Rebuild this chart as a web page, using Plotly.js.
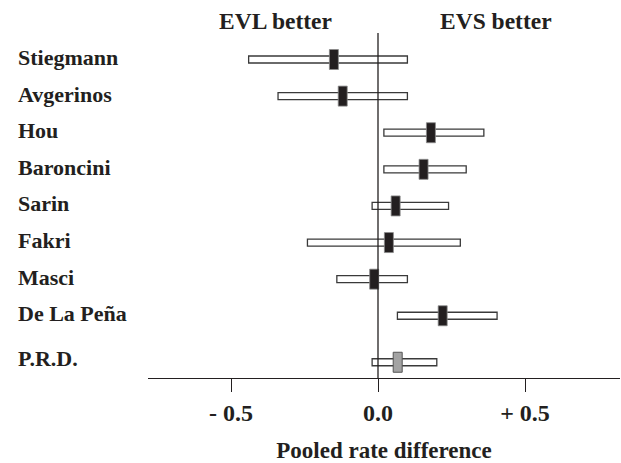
<!DOCTYPE html>
<html>
<head>
<meta charset="utf-8">
<script src="https://cdn.plot.ly/plotly-3.0.1.min.js"></script>
<style>html,body{margin:0;padding:0;background:#fff;}#chart{width:621px;height:463px;}</style>
</head>
<body>
<div id="chart"></div>
<script>
// ---- data ----
const studies = ["Stiegmann", "Avgerinos", "Hou", "Baroncini", "Sarin", "Fakri", "Masci", "De La Peña"];
const pointEst = [-0.15, -0.12, 0.18, 0.155, 0.06, 0.037, -0.013, 0.22];
const ciLow    = [-0.44, -0.34, 0.02, 0.02, -0.02, -0.24, -0.14, 0.066];
const ciHigh   = [0.10, 0.10, 0.36, 0.30, 0.24, 0.28, 0.10, 0.405];
const pooledLabel = "P.R.D.";
const pooledEst = [0.067];
const pooledLow = [-0.02];
const pooledHigh = [0.20];
const tickVals = [-0.5, 0, 0.5];
const tickText = ["- 0.5", "0.0", "+ 0.5"];
const headers = ["EVL better", "EVS better"];
const xTitle = "Pooled rate difference";

// ---- layout constants ----
const W = 621, H = 463;
const M = {l: 148, r: 1, t: 33, b: 85};
const xRange = [-0.7823, 0.8231];
const yRange = [8.70, -0.724];
const POOLED_GAP = 0.27;
const plotW = W - M.l - M.r;
const plotH = H - M.t - M.b;
const pxX = (xRange[1] - xRange[0]) / plotW;
const pxY = Math.abs(yRange[0] - yRange[1]) / plotH;
const half = 4.5 * pxX;
const TXT = '#231f20';
const FONT = 'Liberation Serif, Times New Roman, serif';

const rows = studies.map((_, i) => i);
const pooledRow = studies.length + POOLED_GAP;
const allRows = rows.concat([pooledRow]);
const allLow = ciLow.concat(pooledLow);
const allHigh = ciHigh.concat(pooledHigh);

const ciTrace = {
  type: 'bar', orientation: 'h',
  y: allRows,
  x: allHigh.map((h, i) => h - allLow[i]),
  base: allLow,
  width: 7 * pxY,
  marker: {color: '#ffffff', line: {color: '#3a3a3a', width: 1.3}},
  hoverinfo: 'skip'
};
const ptTrace = {
  type: 'bar', orientation: 'h',
  y: rows,
  x: pointEst.map(() => 2 * half),
  base: pointEst.map(p => p - half),
  width: 20 * pxY,
  marker: {color: TXT, line: {color: '#8a8a8a', width: 0.8}},
  hoverinfo: 'skip'
};
const pooledTrace = {
  type: 'bar', orientation: 'h',
  y: [pooledRow],
  x: pooledEst.map(() => 2 * half),
  base: pooledEst.map(p => p - half),
  width: 20 * pxY,
  marker: {color: '#a3a3a3', line: {color: '#555', width: 1}},
  hoverinfo: 'skip'
};

const labelX = (16 - M.l) / plotW;
const annotations = studies.concat([pooledLabel]).map((s, i) => ({
  text: s, xref: 'paper', yref: 'y', x: labelX, y: allRows[i], yshift: (i === studies.length ? 4 : 2),
  xanchor: 'left', yanchor: 'middle', showarrow: false,
  font: {family: FONT, size: 22, color: TXT, weight: 'bold'}
}));
[-0.349, 0.401].forEach((xv, i) => annotations.push({
  text: headers[i], xref: 'x', yref: 'paper', x: xv, y: 1 + (M.t - 21) / plotH,
  xanchor: 'center', yanchor: 'middle', showarrow: false,
  font: {family: FONT, size: 23.5, color: TXT, weight: 'bold'}
}));

const layout = {
  width: W, height: H, margin: M,
  paper_bgcolor: '#fff', plot_bgcolor: '#fff',
  showlegend: false, hovermode: false, barmode: 'overlay',
  xaxis: {
    range: xRange, showgrid: false, zeroline: false,
    showline: true, linecolor: TXT, linewidth: 1.3,
    ticks: 'outside', ticklen: 13, tickwidth: 1, tickcolor: TXT,
    tickvals: tickVals, ticktext: tickText,
    tickfont: {family: FONT, size: 24, color: TXT, weight: 'bold'},
    title: {text: xTitle, standoff: 22, font: {family: FONT, size: 23, color: TXT, weight: 'bold'}}
  },
  yaxis: {range: yRange, showgrid: false, zeroline: false, showline: false, showticklabels: false, ticks: ''},
  shapes: [{type: 'line', xref: 'x', yref: 'paper', x0: 0, x1: 0, y0: 0, y1: 1,
            line: {color: TXT, width: 1.3}, layer: 'above'}],
  annotations: annotations
};

Plotly.newPlot('chart', [ciTrace, ptTrace, pooledTrace], layout, {displayModeBar: false, staticPlot: true});
</script>
</body>
</html>
